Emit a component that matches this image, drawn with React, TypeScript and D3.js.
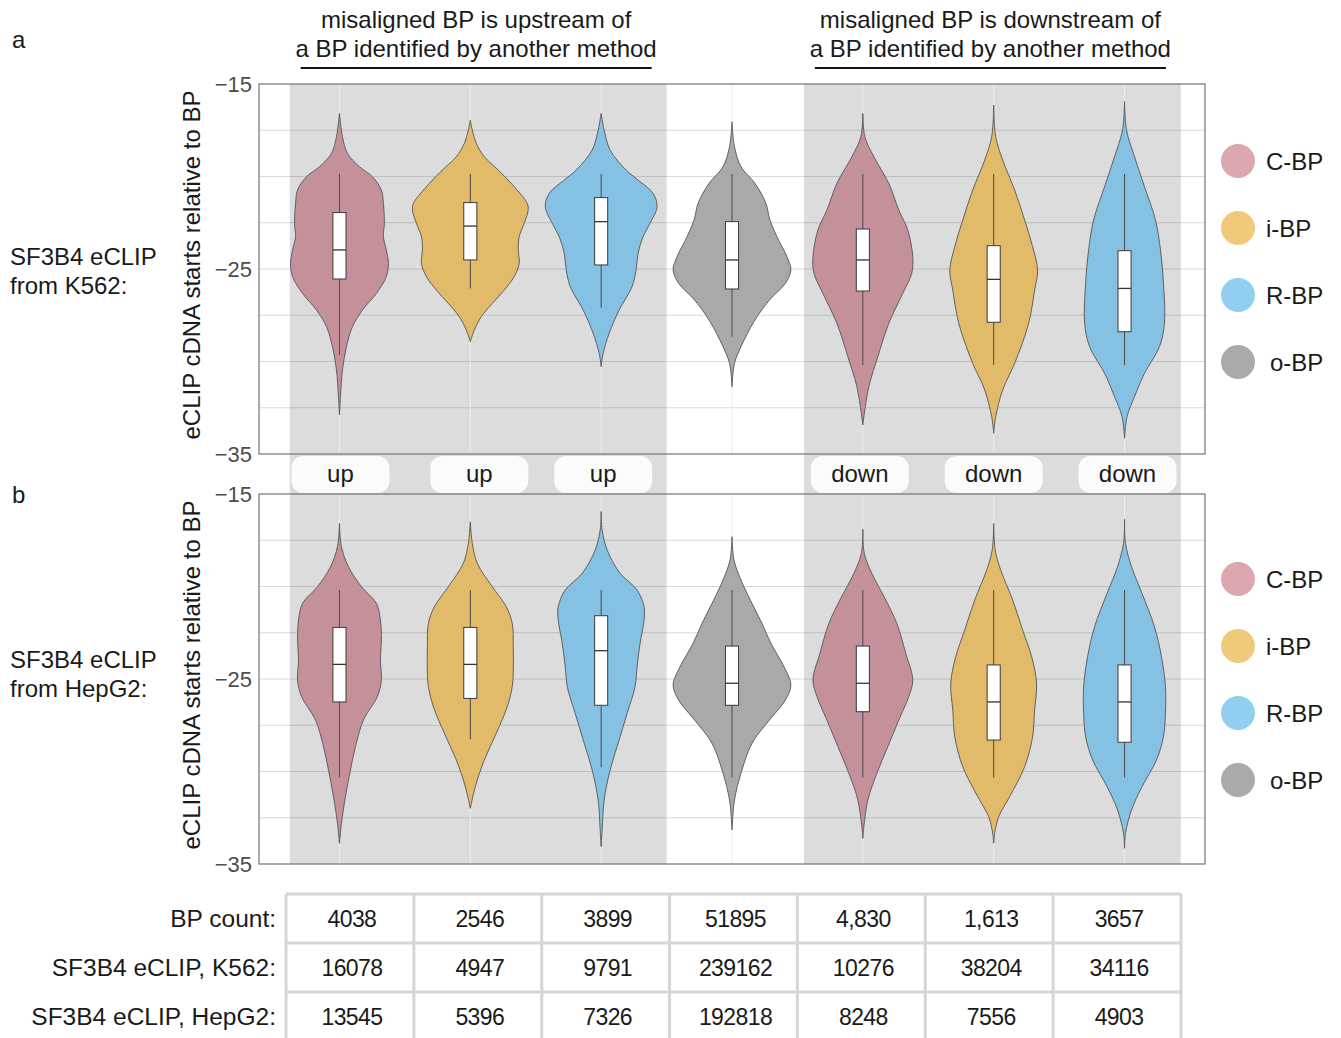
import React from 'react';
import * as d3 from 'd3';

// Categories along the x axis (same order in both panels and the count table)
const categories = ['C-BP up', 'i-BP up', 'R-BP up', 'o-BP', 'C-BP down', 'i-BP down', 'R-BP down'];
const bpClass = ['C-BP', 'i-BP', 'R-BP', 'o-BP', 'C-BP', 'i-BP', 'R-BP'];
const stripLabels = ['up', 'up', 'up', '', 'down', 'down', 'down'];
const legendClasses = ['C-BP', 'i-BP', 'R-BP', 'o-BP'];

const headerGroups = [
  { lines: ['misaligned BP is upstream of', 'a BP identified by another method'] },
  { lines: ['misaligned BP is downstream of', 'a BP identified by another method'] },
];

const yTickLabels = [-15, -25, -35];
const yGridValues = [-17.5, -20, -22.5, -25, -27.5, -30, -32.5];

// Kernel density profiles: [cDNA start position, relative density]
const k562Density: [number, number][][] = [
  [[-16.59, 0], [-17.85, 3], [-18.75, 8], [-19.47, 20], [-20.01, 33], [-20.73, 42], [-21.45, 44], [-22.53, 45], [-23.25, 44], [-23.97, 47], [-24.69, 49], [-25.41, 47], [-26.32, 37], [-27.22, 23], [-28.12, 13], [-29.2, 7], [-30.46, 3], [-31.9, 1], [-32.89, 0]],
  [[-16.95, 0], [-17.49, 2], [-18.21, 6], [-18.93, 14], [-19.65, 28], [-20.55, 44], [-21.45, 57], [-21.81, 58], [-22.53, 54], [-23.25, 49], [-23.97, 48], [-24.69, 49], [-25.41, 44], [-26.14, 34], [-26.86, 22], [-27.58, 11], [-28.3, 4], [-28.93, 0]],
  [[-16.59, 0], [-17.49, 3], [-18.57, 9], [-19.65, 25], [-20.19, 37], [-20.91, 52], [-21.63, 56], [-22.53, 49], [-23.25, 42], [-24.15, 37], [-25.05, 35], [-25.95, 31], [-27.22, 18], [-28.48, 8], [-29.56, 2], [-30.28, 0]],
  [[-17.04, 0], [-18.39, 2.5], [-19.47, 9], [-20.37, 23], [-21.45, 34], [-22.35, 38], [-23.25, 45], [-24.33, 55], [-25.05, 59], [-25.77, 53.5], [-26.68, 37.5], [-27.76, 23], [-29.2, 9], [-30.1, 2.5], [-31.36, 0]],
  [[-16.59, 0], [-17.85, 2], [-18.93, 11], [-20.37, 26], [-21.81, 36], [-22.89, 45], [-24.33, 50], [-25.23, 49], [-26.32, 40], [-27.94, 26], [-29.74, 15], [-31.36, 6], [-32.8, 1.5], [-33.43, 0]],
  [[-16.14, 0], [-17.85, 2], [-19.11, 9], [-20.73, 21], [-22.35, 31], [-23.79, 39], [-25.05, 44], [-26.14, 41], [-27.94, 35], [-30.1, 21], [-31.54, 9], [-32.98, 2], [-33.88, 0]],
  [[-15.95, 0], [-17.49, 2], [-18.93, 10], [-20.55, 20], [-22.35, 31], [-23.97, 36], [-25.77, 39], [-27.94, 40], [-29.2, 35], [-30.64, 20], [-31.9, 10], [-32.98, 2.5], [-34.15, 0]],
];

const hepg2Density: [number, number][][] = [
  [[-16.59, 0], [-17.85, 2], [-18.93, 9], [-20.01, 22], [-20.91, 37], [-21.81, 41], [-22.89, 42], [-23.97, 41], [-25.05, 42], [-25.95, 38], [-27.22, 24], [-28.66, 16], [-29.92, 11], [-31.36, 6], [-32.8, 2], [-33.88, 0]],
  [[-16.5, 0], [-17.67, 2], [-18.75, 7], [-20.01, 22], [-21.09, 36], [-21.99, 42], [-23.25, 43], [-24.69, 43], [-25.41, 42], [-26.5, 37], [-27.94, 26], [-29.38, 14], [-30.82, 5], [-31.99, 0]],
  [[-15.95, 0], [-16.95, 1], [-18.03, 6], [-19.29, 19], [-20.19, 36], [-21.09, 43], [-21.81, 43], [-23.07, 39], [-24.33, 36], [-25.41, 34], [-26.86, 26], [-28.3, 18], [-29.92, 9], [-31.54, 3], [-33.16, 1], [-34.06, 0]],
  [[-17.31, 0], [-18.57, 2], [-19.65, 9], [-20.91, 20], [-21.99, 30], [-23.07, 39], [-24.33, 52], [-25.32, 59], [-26.14, 53.5], [-27.22, 37.5], [-28.48, 20], [-30.1, 9], [-31.54, 2.5], [-33.16, 0]],
  [[-16.91, 0], [-18.21, 1.5], [-19.29, 9], [-20.73, 23], [-21.99, 34], [-23.61, 43], [-25.05, 50], [-25.95, 46], [-27.22, 36], [-28.66, 25], [-30.1, 14], [-31.54, 5], [-32.98, 1], [-33.61, 0]],
  [[-16.59, 0], [-18.03, 1.5], [-19.11, 7], [-20.73, 19], [-22.35, 29], [-23.79, 38], [-25.23, 43], [-26.68, 41], [-28.12, 39], [-29.74, 31], [-31.36, 16], [-32.44, 5], [-33.34, 1], [-33.88, 0]],
  [[-16.37, 0], [-17.67, 1], [-18.93, 7], [-20.37, 17.5], [-22.17, 30], [-23.79, 37], [-25.41, 41], [-26.86, 41], [-28.12, 39], [-29.38, 32], [-30.82, 17.5], [-32.08, 7], [-33.34, 1], [-34.15, 0]],
];

// Box summaries: [upper whisker, Q3, median, Q1, lower whisker]
const k562Box: number[][] = [
  [-19.86, -21.95, -23.97, -25.54, -29.65],
  [-19.86, -21.41, -22.68, -24.51, -26.05],
  [-19.86, -21.14, -22.44, -24.78, -27.09],
  [-19.86, -22.44, -24.51, -26.08, -28.66],
  [-19.86, -22.84, -24.51, -26.19, -30.19],
  [-19.86, -23.74, -25.56, -27.88, -30.19],
  [-19.86, -24.01, -26.05, -28.39, -30.19],
];

const hepg2Box: number[][] = [
  [-20.19, -22.21, -24.21, -26.24, -30.32],
  [-20.19, -22.21, -24.21, -26.05, -28.26],
  [-20.19, -21.58, -23.47, -26.42, -29.77],
  [-20.19, -23.22, -25.23, -26.42, -30.32],
  [-20.19, -23.22, -25.23, -26.77, -30.32],
  [-20.19, -24.24, -26.24, -28.3, -30.32],
  [-20.19, -24.24, -26.24, -28.42, -30.32],
];

// Count table
const tableRowLabels = ['BP count:', 'SF3B4 eCLIP, K562:', 'SF3B4 eCLIP, HepG2:'];
const bpCounts = ['4038', '2546', '3899', '51895', '4,830', '1,613', '3657'];
const k562Counts = ['16078', '4947', '9791', '239162', '10276', '38204', '34116'];
const hepg2Counts = ['13545', '5396', '7326', '192818', '8248', '7556', '4903'];

const FILL: Record<string, string> = {
  'C-BP': '#c4919a',
  'i-BP': '#e2bb6a',
  'R-BP': '#84c1e3',
  'o-BP': '#a8a9a8',
};
const LEGEND_FILL: Record<string, string> = {
  'C-BP': '#dca7af',
  'i-BP': '#f0c97a',
  'R-BP': '#91cef0',
  'o-BP': '#a9aaa9',
};

const FONT = "'Liberation Sans', Arial, Helvetica, sans-serif";
const W = 1341;
const H = 1038;
const PLOT_L = 259;
const PLOT_R = 1205;

const panels = [
  { top: 84, bottom: 454, density: k562Density, box: k562Box, tag: 'a', tagY: 48, label: ['SF3B4 eCLIP', 'from K562:'], labelY: 265, legendY: 161 },
  { top: 494, bottom: 864, density: hepg2Density, box: hepg2Box, tag: 'b', tagY: 503, label: ['SF3B4 eCLIP', 'from HepG2:'], labelY: 668, legendY: 579 },
];

const x = d3.scalePoint<string>().domain(categories).range([PLOT_L, PLOT_R]).padding(0.615);
const step = x.step();
const widthScale = d3.scaleLinear().domain([0, 59]).range([0, 0.45 * step]);
const bands = [
  [x(categories[0])! - 0.38 * step, x(categories[2])! + 0.5 * step],
  [x(categories[4])! - 0.45 * step, x(categories[6])! + 0.43 * step],
];
// strip label boxes sit slightly off the category centres
const stripShift = [1, 9, 2, 0, -3, 0, 3];
const fmt = d3.format('d');

function Panel({ p }: { p: (typeof panels)[number] }) {
  const y = d3.scaleLinear().domain([-35, -15]).range([p.bottom, p.top]);
  const halfBox = 0.05 * step;
  return (
    <g>
      {/* horizontal grid */}
      {yGridValues.map((v) => (
        <line key={v} x1={PLOT_L} x2={PLOT_R} y1={y(v)} y2={y(v)} stroke="rgba(120,120,120,0.28)" strokeWidth={1} />
      ))}
      {/* vertical grid at categories */}
      {categories.map((c) => (
        <line key={c} x1={x(c)} x2={x(c)} y1={p.top} y2={p.bottom} stroke="#ededed" strokeWidth={1} />
      ))}
      {/* violins with boxplots */}
      {categories.map((c, i) => {
        const cx = x(c)!;
        const area = d3
          .area<[number, number]>()
          .y((d) => y(d[0]))
          .x0((d) => cx - widthScale(d[1]))
          .x1((d) => cx + widthScale(d[1]))
          .curve(d3.curveCatmullRom.alpha(0.5));
        const [wHi, q3, med, q1, wLo] = p.box[i];
        return (
          <g key={c}>
            <path d={area(p.density[i]) || ''} fill={FILL[bpClass[i]]} stroke="#555" strokeWidth={0.9} strokeLinejoin="round" />
            <line x1={cx} x2={cx} y1={y(wHi)} y2={y(wLo)} stroke="#4a4a4a" strokeWidth={1} />
            <rect x={cx - halfBox} y={y(q3)} width={2 * halfBox} height={y(q1) - y(q3)} fill="#ffffff" stroke="#3a3a3a" strokeWidth={1} />
            <line x1={cx - halfBox} x2={cx + halfBox} y1={y(med)} y2={y(med)} stroke="#333" strokeWidth={1.3} />
          </g>
        );
      })}
      {/* panel frame */}
      <rect x={PLOT_L} y={p.top} width={PLOT_R - PLOT_L} height={p.bottom - p.top} fill="none" stroke="#737373" strokeWidth={1.2} />
      {/* y tick labels */}
      {yTickLabels.map((v) => (
        <text key={v} x={252} y={y(v)} dy="0.35em" textAnchor="end" fontSize={22} fill="#4d4d4d">
          {fmt(v)}
        </text>
      ))}
      {/* y axis title */}
      <text transform={`translate(200,${(p.top + p.bottom) / 2 - 4}) rotate(-90)`} textAnchor="middle" fontSize={24} fill="#1a1a1a">
        eCLIP cDNA starts relative to BP
      </text>
      {/* panel tag and row label */}
      <text x={12} y={p.tagY} fontSize={24} fill="#1a1a1a">{p.tag}</text>
      {p.label.map((t, k) => (
        <text key={t} x={10} y={p.labelY + k * 29} fontSize={24} fill="#1a1a1a">{t}</text>
      ))}
      {/* legend */}
      {legendClasses.map((cls, k) => {
        const cy = p.legendY + k * 67;
        return (
          <g key={cls}>
            <circle cx={1238} cy={cy} r={17} fill={LEGEND_FILL[cls]} />
            <text x={cls === 'o-BP' ? 1270 : 1266} y={cy + 8.5} fontSize={24} fill="#1a1a1a">{cls}</text>
          </g>
        );
      })}
    </g>
  );
}

export default function App() {
  const tableRows = [bpCounts, k562Counts, hepg2Counts];
  const colX = d3.scaleBand<string>().domain(categories).range([286, 1181]).padding(0);
  const tableTop = 894;
  const rowH = 49;
  return (
    <div style={{ position: 'absolute', left: 0, top: 0 }}>
      <svg width={W} height={H} viewBox={`0 0 ${W} ${H}`} style={{ display: 'block', fontFamily: FONT, background: '#fff' }}>
        <rect x={0} y={0} width={W} height={H} fill="#ffffff" />
        {/* shaded groups spanning both panels */}
        {bands.map(([a, b], i) => (
          <rect key={i} x={a} y={panels[0].top} width={b - a} height={panels[1].bottom - panels[0].top} fill="#dcdcdc" />
        ))}
        {panels.map((p) => (
          <Panel key={p.tag} p={p} />
        ))}
        {/* up / down strip labels */}
        {categories.map((c, i) =>
          stripLabels[i] ? (
            <g key={c}>
              <rect x={x(c)! + stripShift[i] - 49} y={456} width={98} height={37} rx={12} fill="#fbfbfb" />
              <text x={x(c)! + stripShift[i]} y={482} textAnchor="middle" fontSize={24} fill="#1a1a1a">{stripLabels[i]}</text>
            </g>
          ) : null
        )}
        {/* group headers */}
        {headerGroups.map((g, i) => {
          const [a, b] = bands[i];
          const cx = (a + b) / 2 - 2;
          return (
            <g key={i}>
              <text x={cx} y={28} textAnchor="middle" fontSize={24} fill="#1a1a1a">{g.lines[0]}</text>
              <text x={cx} y={57} textAnchor="middle" fontSize={24} fill="#1a1a1a">{g.lines[1]}</text>
              <line x1={cx - 175.5} x2={cx + 175.5} y1={68} y2={68} stroke="#111" strokeWidth={2} />
            </g>
          );
        })}
        {/* count table */}
        <g>
          {tableRows.map((row, r) => (
            <g key={r}>
              <text x={276} y={tableTop + r * rowH + rowH / 2 + 8.5} textAnchor="end" fontSize={24.5} fill="#1a1a1a">
                {tableRowLabels[r]}
              </text>
              {row.map((v, i) => (
                <text key={i} x={colX(categories[i])! + colX.bandwidth() / 2 + 2} y={tableTop + r * rowH + rowH / 2 + 8} textAnchor="middle" fontSize={23} fill="#1a1a1a" letterSpacing={-0.6}>
                  {v}
                </text>
              ))}
            </g>
          ))}
          {d3.range(4).map((r) => (
            <line key={'h' + r} x1={286} x2={1181} y1={tableTop + r * rowH} y2={tableTop + r * rowH} stroke="#d6d6d6" strokeWidth={3} />
          ))}
          {d3.range(8).map((c) => {
            const xx = c < 7 ? colX(categories[c])! : 1181;
            return <line key={'v' + c} x1={xx} x2={xx} y1={tableTop} y2={tableTop + 3 * rowH} stroke="#d6d6d6" strokeWidth={3} />;
          })}
        </g>
      </svg>
    </div>
  );
}
